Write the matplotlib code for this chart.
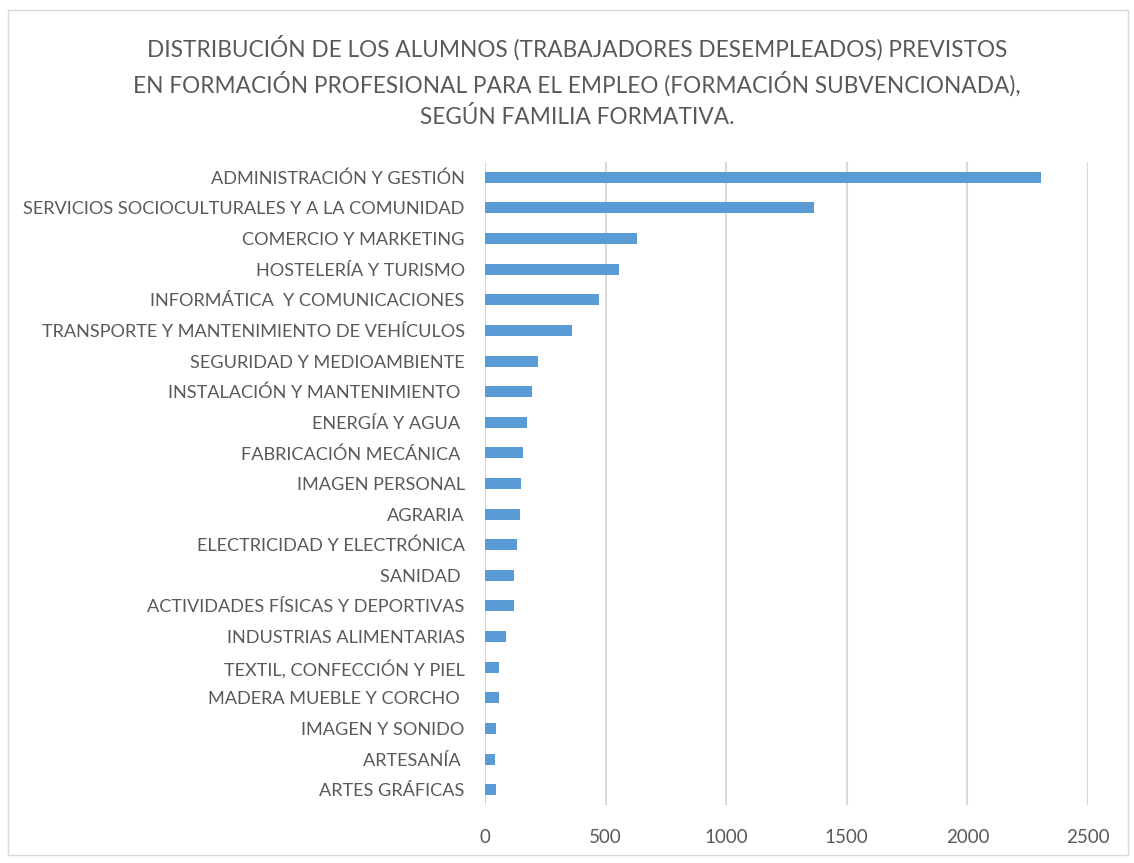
import matplotlib
matplotlib.use("Agg")
import matplotlib.pyplot as plt
from matplotlib.patches import Rectangle

categories = [
    "ADMINISTRACIÓN Y GESTIÓN",
    "SERVICIOS SOCIOCULTURALES Y A LA COMUNIDAD",
    "COMERCIO Y MARKETING",
    "HOSTELERÍA Y TURISMO",
    "INFORMÁTICA  Y COMUNICACIONES",
    "TRANSPORTE Y MANTENIMIENTO DE VEHÍCULOS",
    "SEGURIDAD Y MEDIOAMBIENTE",
    "INSTALACIÓN Y MANTENIMIENTO ",
    "ENERGÍA Y AGUA ",
    "FABRICACIÓN MECÁNICA ",
    "IMAGEN PERSONAL",
    "AGRARIA",
    "ELECTRICIDAD Y ELECTRÓNICA",
    "SANIDAD ",
    "ACTIVIDADES FÍSICAS Y DEPORTIVAS",
    "INDUSTRIAS ALIMENTARIAS",
    "TEXTIL, CONFECCIÓN Y PIEL",
    "MADERA MUEBLE Y CORCHO ",
    "IMAGEN Y SONIDO",
    "ARTESANÍA ",
    "ARTES GRÁFICAS",
]
values = [2304, 1366, 630, 557, 473, 360, 221, 195, 173, 158, 149, 145, 134,
          120, 120, 86, 59, 57, 44, 40, 47]
xticks = [0, 500, 1000, 1500, 2000, 2500]
title = ("DISTRIBUCIÓN DE LOS ALUMNOS (TRABAJADORES DESEMPLEADOS) PREVISTOS\n"
         "EN FORMACIÓN PROFESIONAL PARA EL EMPLEO (FORMACIÓN SUBVENCIONADA),\n"
         "SEGÚN FAMILIA FORMATIVA.")

plt.rcParams['font.family'] = ['Lato', 'DejaVu Sans']
text_color = "#595959"

fig = plt.figure(figsize=(11.34, 8.63), dpi=100)
ax = fig.add_axes([485/1134, 1-805/863, (1088-485)/1134, (805-162)/863])

y = list(range(len(categories)))
ax.barh(y, values, height=0.36, color="#5b9bd5", zorder=3)
ax.set_ylim(len(categories)-0.5, -0.5)
ax.set_xlim(0, 2500)
ax.set_yticks(y)
ax.set_yticklabels(categories, fontsize=13.1, color=text_color)
ax.set_xticks(xticks)
ax.set_xticklabels([str(t) for t in xticks], fontsize=13.5, color=text_color)
ax.tick_params(axis='y', length=0, pad=14.5)
ax.tick_params(axis='x', length=0, pad=17)
ax.grid(axis='x', color="#d9d9d9", linewidth=1.5, zorder=0)
for s in ax.spines.values():
    s.set_visible(False)

fig.text(577/1134, 1-35/863, title, ha='center', va='top', fontsize=16.3,
         color=text_color, linespacing=1.52)

fig.patches.append(Rectangle((8/1134, 1-855/863), (1128-8)/1134, (855-10)/863,
                             transform=fig.transFigure, fill=False,
                             edgecolor="#d9d9d9", linewidth=1))

fig.savefig("out.png", dpi=100)
